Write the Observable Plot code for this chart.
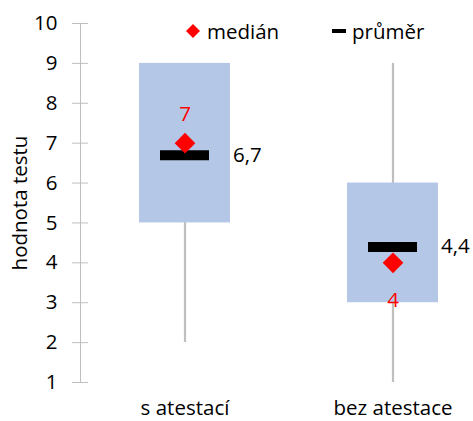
<!DOCTYPE html>
<html>
<head>
<meta charset="utf-8">
<script src="https://cdn.jsdelivr.net/npm/d3@7"></script>
<script src="https://cdn.jsdelivr.net/npm/@observablehq/plot@0.6"></script>
<style>
  body { margin: 0; background: #fff; }
  #chart { position: relative; width: 473px; height: 421px; font-family: "Open Sans", sans-serif; color: #000; }
  .legend-item { position: absolute; top: 17px; height: 28px; display: flex; align-items: center; font-size: 20.5px; line-height: 28px; white-space: nowrap; }
  .legend-item svg { display: block; }
</style>
</head>
<body>
<div id="chart">
  <div class="legend-item" style="left:186px">
    <svg width="14" height="14" viewBox="0 0 14 14"><polygon points="7,0 14,7 7,14 0,7" fill="#ff0000"/></svg>
    <span style="margin-left:7px">medián</span>
  </div>
  <div class="legend-item" style="left:332px">
    <svg width="14" height="4"><rect width="14" height="4" fill="#000"/></svg>
    <span style="margin-left:6px">průměr</span>
  </div>
</div>
<script>
// Test scores by group: box = quartiles, whisker = range
const categories = ["s atestací", "bez atestace"];
const minimum = [2, 1];
const q1 = [5, 3];
const q3 = [9, 6];
const maximum = [9, 9];
const median = [7, 4];
const mean = [6.7, 4.4];
const yTicks = [1, 2, 3, 4, 5, 6, 7, 8, 9, 10];

const rows = categories.map((c, i) => ({
  category: c, min: minimum[i], q1: q1[i], q3: q3[i], max: maximum[i],
  median: median[i], mean: mean[i]
}));
const fmt = v => String(v).replace(".", ",");

const chart = Plot.plot({
  width: 473,
  height: 421,
  marginTop: 23,
  marginBottom: 39,
  marginLeft: 80,
  marginRight: 0,
  style: { fontFamily: "'Open Sans', sans-serif", fontSize: "20.5px", color: "#000", background: "#fff", overflow: "visible" },
  x: { domain: categories, range: [80, 496.3], paddingInner: 0.5646, paddingOuter: 0.2815, label: null },
  y: { domain: [1, 10], label: null },
  marks: [
    Plot.frame({ anchor: "left", stroke: "#bfbfbf" }),
    Plot.axisY({
      ticks: yTicks, tickSize: 16, dx: 8, tickPadding: 15,
      stroke: "#bfbfbf", fill: "#000",
      label: "hodnota testu", labelAnchor: "center", labelOffset: 68, labelArrow: "none"
    }),
    Plot.axisX({ tickSize: 0, tickPadding: 18, label: null, fill: "#000" }),
    Plot.ruleX(rows, { x: "category", y1: "min", y2: "max", stroke: "#bfbfbf", strokeWidth: 2.2 }),
    Plot.barY(rows, { x: "category", y1: "q1", y2: "q3", fill: "#b4c7e7" }),
    Plot.tickY(rows, { x: "category", y: "mean", stroke: "#000", strokeWidth: 10, inset: 21 }),
    Plot.dot(rows, { x: "category", y: "median", symbol: "diamond2", r: 9.3, fill: "#ff0000", stroke: null }),
    Plot.text(rows.filter(d => d.median >= d.mean), { x: "category", y: "median", text: d => fmt(d.median), fill: "#ff0000", dy: -29 }),
    Plot.text(rows.filter(d => d.median < d.mean), { x: "category", y: "median", text: d => fmt(d.median), fill: "#ff0000", dy: 38 }),
    Plot.text(rows, { x: "category", y: "mean", text: d => fmt(d.mean), textAnchor: "start", dx: 48, fill: "#000" })
  ]
});
document.getElementById("chart").prepend(chart);
</script>
</body>
</html>
